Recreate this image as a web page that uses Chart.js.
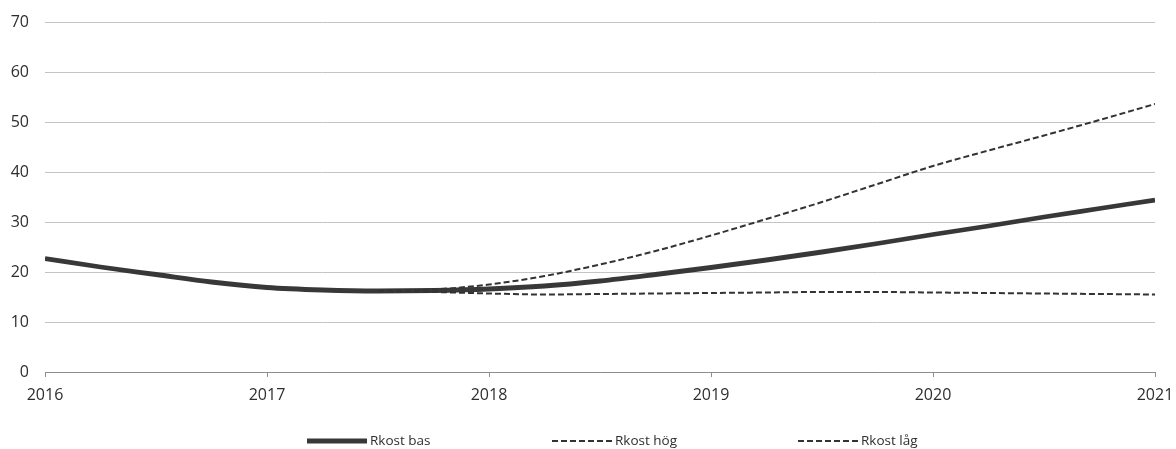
<!DOCTYPE html>
<html>
<head>
<meta charset="utf-8">
<script src="https://cdn.jsdelivr.net/npm/chart.js@4.4.1/dist/chart.umd.min.js"></script>
<style>
  html, body { margin: 0; padding: 0; background: #ffffff; }
  #wrap { width: 1176px; height: 449px; position: relative; }
</style>
</head>
<body>
<div id="wrap"><canvas id="chart" width="1176" height="449"></canvas></div>
<script>
// Quarterly time points (decimal years)
const quarters = [
  2016.0, 2016.25, 2016.5, 2016.75,
  2017.0, 2017.25, 2017.5, 2017.75,
  2018.0, 2018.25, 2018.5, 2018.75,
  2019.0, 2019.25, 2019.5, 2019.75,
  2020.0, 2020.25, 2020.5, 2020.75,
  2021.0
];

// Base scenario
const rkostBas = [
  22.7, 21.0, 19.5, 18.0,
  16.9, 16.4, 16.2, 16.3,
  16.6, 17.2, 18.2, 19.5,
  20.9, 22.4, 24.0, 25.7,
  27.5, 29.2, 31.0, 32.7,
  34.4
];

// High scenario (starts where the scenarios branch off)
const rkostHog = [
  null, null, null, null,
  null, null, 16.2, 16.5,
  17.5, 19.2, 21.5, 24.2,
  27.3, 30.6, 34.0, 37.6,
  41.2, 44.3, 47.3, 50.4,
  53.6
];

// Low scenario
const rkostLag = [
  null, null, null, null,
  null, null, 16.2, 16.0,
  15.7, 15.5, 15.6, 15.7,
  15.8, 15.9, 16.0, 16.0,
  15.9, 15.8, 15.7, 15.6,
  15.5
];

const seriesNames = ['Rkost bas', 'Rkost hög', 'Rkost låg'];
const yearTicks = [2016, 2017, 2018, 2019, 2020, 2021];
const yTicks = [0, 10, 20, 30, 40, 50, 60, 70];

const toPoints = (vals) => quarters.map((q, i) => ({ x: q, y: vals[i] }));

const FONT = "'Open Sans', 'DejaVu Sans', sans-serif";
const TEXT = '#2e2e2e';

// Legend drawn beneath the axis: sample line followed by the label
const bottomLegend = {
  id: 'bottomLegend',
  afterDraw(chart) {
    const ctx = chart.ctx;
    const y = 441;
    const starts = [307, 552, 798];
    const sampleW = 60;
    ctx.save();
    ctx.font = '13.5px ' + FONT;
    ctx.textBaseline = 'middle';
    ctx.textAlign = 'left';
    chart.data.datasets.forEach((ds, i) => {
      const x0 = starts[i];
      ctx.beginPath();
      ctx.setLineDash(ds.borderDash || []);
      ctx.lineWidth = ds.borderWidth;
      ctx.strokeStyle = ds.borderColor;
      ctx.lineCap = 'butt';
      ctx.moveTo(x0, y);
      ctx.lineTo(x0 + sampleW, y);
      ctx.stroke();
      ctx.setLineDash([]);
      ctx.fillStyle = TEXT;
      ctx.fillText(ds.label, x0 + sampleW + 3, y);
    });
    ctx.restore();
  }
};

new Chart(document.getElementById('chart'), {
  type: 'line',
  data: {
    datasets: [
      {
        label: seriesNames[0],
        data: toPoints(rkostBas),
        borderColor: '#383838',
        borderWidth: 4.8,
        pointRadius: 0,
        cubicInterpolationMode: 'monotone',
        order: 2
      },
      {
        label: seriesNames[1],
        data: toPoints(rkostHog),
        borderColor: '#333333',
        borderWidth: 2,
        borderDash: [6, 3],
        pointRadius: 0,
        cubicInterpolationMode: 'monotone',
        order: 1
      },
      {
        label: seriesNames[2],
        data: toPoints(rkostLag),
        borderColor: '#333333',
        borderWidth: 2,
        borderDash: [6, 3],
        pointRadius: 0,
        cubicInterpolationMode: 'monotone',
        order: 1
      }
    ]
  },
  options: {
    responsive: false,
    animation: false,
    layout: { padding: { left: 0, right: 21, top: 22, bottom: 47 } },
    plugins: {
      legend: { display: false },
      tooltip: { enabled: false }
    },
    scales: {
      x: {
        type: 'linear',
        min: yearTicks[0],
        max: yearTicks[yearTicks.length - 1],
        afterBuildTicks: (scale) => { scale.ticks = yearTicks.map(v => ({ value: v })); },
        afterFit: (scale) => {
          scale.height = 30;
          scale.paddingLeft = 0;
          scale.paddingRight = 0;
        },
        ticks: {
          callback: (v) => String(v),
          color: TEXT,
          font: { family: FONT, size: 16 },
          padding: 9,
          maxRotation: 0
        },
        grid: {
          drawOnChartArea: false,
          drawTicks: true,
          tickLength: 5,
          color: '#8c8c8c',
          lineWidth: 1
        },
        border: { display: true, color: '#8c8c8c', width: 1 }
      },
      y: {
        min: yTicks[0],
        max: yTicks[yTicks.length - 1],
        afterBuildTicks: (scale) => { scale.ticks = yTicks.map(v => ({ value: v })); },
        afterFit: (scale) => {
          scale.width = 45;
          scale.paddingTop = 0;
          scale.paddingBottom = 0;
        },
        ticks: {
          color: TEXT,
          font: { family: FONT, size: 16 },
          padding: 16
        },
        grid: {
          drawTicks: false,
          color: '#c4c4c4',
          lineWidth: 1
        },
        border: { display: false }
      }
    }
  },
  plugins: [bottomLegend]
});
</script>
</body>
</html>
